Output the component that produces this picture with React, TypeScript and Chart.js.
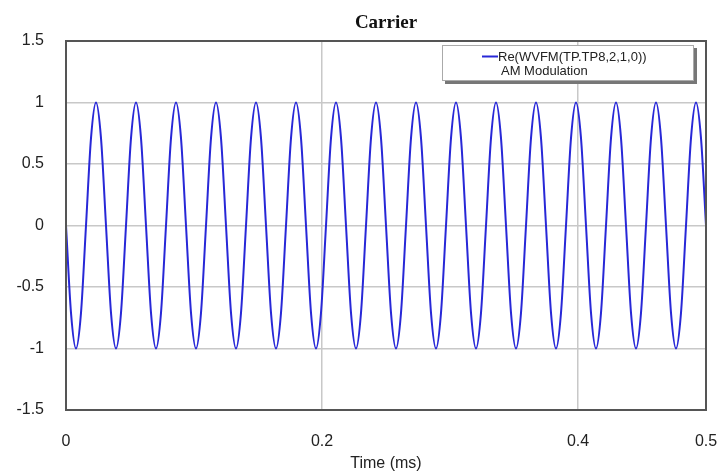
import React, { useEffect, useRef } from "react";
import { Chart, registerables } from "chart.js";

Chart.register(...registerables);

// Carrier samples, one every 1/8 of a carrier period
// (period ≈ 0.03125 ms, 16 periods over 0.5 ms; starts at 0 going negative)
const sampleStepMs = 0.00390625;
const carrierValues = [
  0, -0.71, -1, -0.71, 0, 0.71, 1, 0.71,
  0, -0.71, -1, -0.71, 0, 0.71, 1, 0.71,
  0, -0.71, -1, -0.71, 0, 0.71, 1, 0.71,
  0, -0.71, -1, -0.71, 0, 0.71, 1, 0.71,
  0, -0.71, -1, -0.71, 0, 0.71, 1, 0.71,
  0, -0.71, -1, -0.71, 0, 0.71, 1, 0.71,
  0, -0.71, -1, -0.71, 0, 0.71, 1, 0.71,
  0, -0.71, -1, -0.71, 0, 0.71, 1, 0.71,
  0, -0.71, -1, -0.71, 0, 0.71, 1, 0.71,
  0, -0.71, -1, -0.71, 0, 0.71, 1, 0.71,
  0, -0.71, -1, -0.71, 0, 0.71, 1, 0.71,
  0, -0.71, -1, -0.71, 0, 0.71, 1, 0.71,
  0, -0.71, -1, -0.71, 0, 0.71, 1, 0.71,
  0, -0.71, -1, -0.71, 0, 0.71, 1, 0.71,
  0, -0.71, -1, -0.71, 0, 0.71, 1, 0.71,
  0, -0.71, -1, -0.71, 0, 0.71, 1, 0.71,
  0,
];
const xTicks = [0, 0.2, 0.4, 0.5];
const xTickLabels = ["0", "0.2", "0.4", "0.5"];
const yTicks = [-1.5, -1, -0.5, 0, 0.5, 1, 1.5];
const yTickLabels = ["-1.5", "-1", "-0.5", "0", "0.5", "1", "1.5"];
const titleText = "Carrier";
const xAxisTitle = "Time (ms)";
const legendLines = ["Re(WVFM(TP.TP8,2,1,0))", "AM Modulation"];

const LINE_COLOR = "rgb(40,40,215)";
const SANS = "'Liberation Sans', Arial, sans-serif";

const decorPlugin = {
  id: "decor",
  afterDatasetsDraw(chart: any) {
    const { ctx, chartArea } = chart;
    ctx.save();
    // frame
    ctx.strokeStyle = "#555";
    ctx.lineWidth = 2;
    ctx.strokeRect(chartArea.left, chartArea.top, chartArea.right - chartArea.left, chartArea.bottom - chartArea.top);
    // title
    ctx.fillStyle = "#111";
    ctx.font = "bold 19px 'Liberation Serif', 'Times New Roman', serif";
    ctx.textAlign = "center";
    ctx.textBaseline = "middle";
    ctx.fillText(titleText, (chartArea.left + chartArea.right) / 2, 23);
    // legend box
    const bx = 442, by = 45, bw = 252, bh = 36;
    ctx.fillStyle = "#777";
    ctx.fillRect(bx + 3, by + 3, bw, bh);
    ctx.fillStyle = "#fff";
    ctx.fillRect(bx, by, bw, bh);
    ctx.strokeStyle = "#aaa";
    ctx.lineWidth = 1;
    ctx.strokeRect(bx + 0.5, by + 0.5, bw - 1, bh - 1);
    ctx.strokeStyle = LINE_COLOR;
    ctx.lineWidth = 2;
    ctx.beginPath();
    ctx.moveTo(482, 56.5);
    ctx.lineTo(498, 56.5);
    ctx.stroke();
    ctx.fillStyle = "#222";
    ctx.font = `13px ${SANS}`;
    ctx.textAlign = "left";
    ctx.fillText(legendLines[0], 498, 57);
    ctx.fillText(legendLines[1], 501, 71);
    ctx.restore();
  },
};

export default function App() {
  const ref = useRef<HTMLCanvasElement | null>(null);
  useEffect(() => {
    document.body.style.margin = "0";
    const data = carrierValues.map((v, i) => ({ x: i * sampleStepMs, y: v }));
    const chart = new Chart(ref.current as HTMLCanvasElement, {
      type: "line",
      data: {
        datasets: [
          {
            label: legendLines[0],
            data,
            borderColor: LINE_COLOR,
            borderWidth: 2,
            pointRadius: 0,
            cubicInterpolationMode: "monotone",
            fill: false,
          },
        ],
      },
      options: {
        animation: false,
        responsive: false,
        layout: { padding: { left: 0, right: 15, top: 41, bottom: 0 } },
        plugins: { legend: { display: false }, title: { display: false }, tooltip: { enabled: false } },
        scales: {
          x: {
            type: "linear",
            min: 0,
            max: 0.5,
            afterBuildTicks: (s: any) => {
              s.ticks = xTicks.map((v) => ({ value: v }));
            },
            afterFit: (s: any) => {
              s.height = 66;
              s.paddingLeft = 0;
              s.paddingRight = 0;
            },
            grid: { color: "#c8c8c8", lineWidth: 1.5, drawTicks: false },
            border: { display: false },
            ticks: {
              padding: 22,
              color: "#222",
              font: { family: SANS, size: 16 },
              maxRotation: 0,
              autoSkip: false,
              callback: (v: any) => {
                const i = xTicks.indexOf(Number(v));
                return i >= 0 ? xTickLabels[i] : "";
              },
            },
            title: {
              display: true,
              text: xAxisTitle,
              color: "#222",
              font: { family: SANS, size: 16 },
              padding: { top: 0, bottom: 3 },
            },
          },
          y: {
            min: -1.5,
            max: 1.5,
            afterBuildTicks: (s: any) => {
              s.ticks = yTicks.map((v) => ({ value: v }));
            },
            afterFit: (s: any) => {
              s.width = 66;
              s.paddingTop = 0;
              s.paddingBottom = 0;
            },
            grid: { color: "#c8c8c8", lineWidth: 1.5, drawTicks: false },
            border: { display: false },
            ticks: {
              padding: 22,
              color: "#222",
              font: { family: SANS, size: 16 },
              autoSkip: false,
              callback: (v: any) => {
                const i = yTicks.indexOf(Number(v));
                return i >= 0 ? yTickLabels[i] : "";
              },
            },
          },
        },
      },
      plugins: [decorPlugin],
    } as any);
    return () => chart.destroy();
  }, []);
  return (
    <div style={{ position: "fixed", left: 0, top: 0, width: 721, height: 476, background: "#fff" }}>
      <canvas ref={ref} width={721} height={476} style={{ width: 721, height: 476 }} />
    </div>
  );
}
